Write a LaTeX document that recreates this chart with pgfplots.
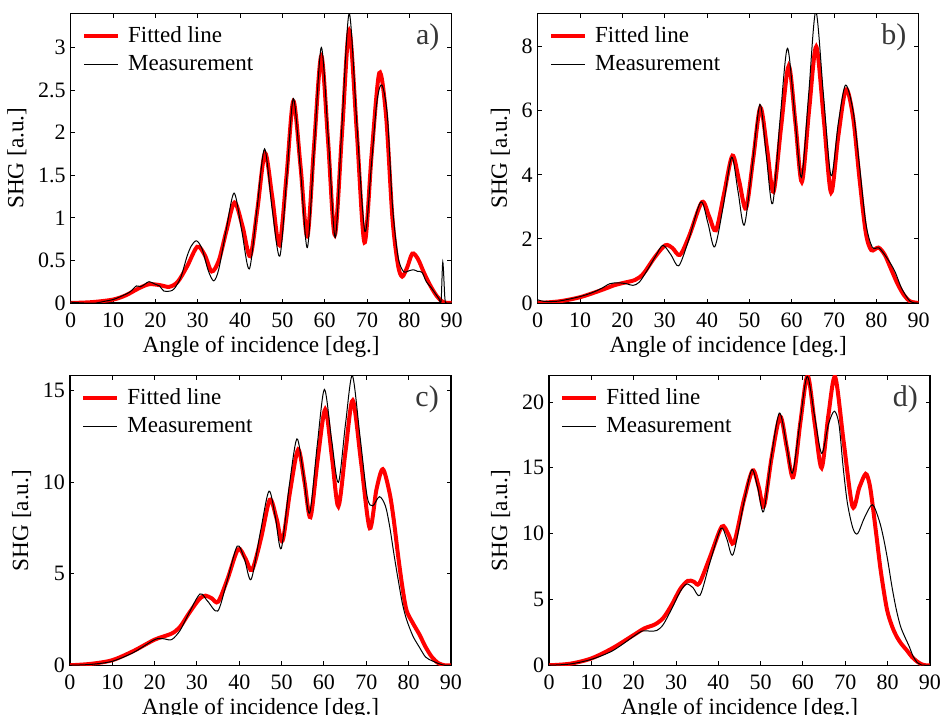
\documentclass[border=0pt]{standalone}
\usepackage{pgfplots}
\pgfplotsset{compat=1.18}
\usepackage{fontspec}
\setmainfont{Liberation Serif}
\definecolor{fitred}{RGB}{255,0,0}
\definecolor{tagcol}{RGB}{55,55,55}

\tikzset{tag/.style={anchor=east, inner sep=0pt, text=tagcol, font=\fontsize{15}{17}\selectfont}}

\pgfplotsset{
  shg/.style={
    scale only axis,
    width=190.5pt, height=144.8pt,
    xmin=0, xmax=90, ymin=0,
    xtick={0,10,...,90},
    tick align=inside,
    xtick pos=both, ytick pos=both,
    major tick length=2.2pt,
    axis line style={line width=0.6pt},
    every tick/.style={black, line width=0.5pt},
    xticklabel style={font=\fontsize{11}{13}\selectfont, inner sep=4.5pt},
    yticklabel style={font=\fontsize{11}{13}\selectfont, inner sep=2.3pt},
    xlabel style={font=\fontsize{11.6}{14}\selectfont, yshift=3.5pt},
    ylabel style={font=\fontsize{11.6}{14}\selectfont},
    /pgf/number format/assume math mode=true,
    ylabel={SHG [a.u.]},
    xlabel={Angle of incidence [deg.]},
    legend style={at={(0,1)}, anchor=north west, xshift=2.5pt, yshift=-2.3pt,
      draw=none, fill=none, font=\fontsize{11.5}{13.5}\selectfont, row sep=1pt},
    legend cell align=left,
    legend image code/.code={\draw[##1] (0pt,0pt) -- (17pt,0pt); \path (19pt,0pt);},
  },
  fit/.style={fitred, line width=2pt, smooth},
  meas/.style={black, line width=0.5pt, smooth},
}

\begin{document}
\begin{tikzpicture}
\useasboundingbox (0,0) rectangle (470.5pt,357.5pt);
\clip (0,0) rectangle (470.5pt,357.5pt);

% a)
\begin{axis}[shg, at={(35.35pt,206pt)}, anchor=south west,
  ymax=3.4, ytick={0,0.5,1,1.5,2,2.5,3}]
\addplot[fit] coordinates {
(0,0) (5,0.01) (10,0.04) (13,0.09) (16,0.17) (18.5,0.22) (21,0.21) (23.3,0.19) (25.3,0.25) (27.5,0.43) (29.9,0.66) (31.7,0.56) (33.3,0.37) (35,0.5) (36.8,0.85) (38.7,1.18) (40.6,0.9) (42.4,0.55) (44.1,1.1) (45.9,1.76) (47.6,1.25) (49.3,0.68) (51,1.5) (52.6,2.37) (54.3,1.6) (55.9,0.78) (57.5,1.85) (59.2,2.9) (60.8,1.9) (62.4,0.8) (64.1,2.0) (65.8,3.2) (67.6,2.0) (69.4,0.71) (71.1,1.75) (72.9,2.7) (74.5,2.2) (76,1.0) (77.3,0.45) (78.3,0.31) (79.5,0.42) (80.7,0.58) (82,0.52) (83.5,0.35) (85,0.2) (86.5,0.08) (88,0.01) (90,0)
};
\addlegendentry{Fitted line}
\addplot[meas] coordinates {
(0,0.01) (3,0.0) (6,0.0) (8,0.02) (10,0.04) (12,0.08) (14,0.13) (15.5,0.2) (16.5,0.19) (17.5,0.22) (18.5,0.25) (20,0.22) (21,0.2) (22,0.14) (23.5,0.14) (24.5,0.17) (26,0.3) (27.5,0.55) (28.5,0.67) (29.7,0.73) (31,0.64) (32.5,0.38) (33.8,0.26) (35,0.4) (36.7,0.85) (38.6,1.29) (40.4,0.85) (42.2,0.4) (44,1.1) (45.8,1.81) (47.6,1.1) (49.4,0.55) (51,1.45) (52.6,2.4) (54.3,1.55) (55.9,0.65) (57.5,1.8) (59.2,3.0) (60.9,1.9) (62.5,0.77) (64.1,2.1) (65.8,3.4) (67.6,2.1) (69.5,0.84) (71,1.6) (72.3,2.35) (73.5,2.56) (74.8,2.2) (76,1.15) (77.3,0.55) (78.6,0.37) (80,0.38) (81,0.39) (82,0.37) (83,0.36) (84,0.25) (85,0.19) (86,0.12) (87,0.05) (87.5,0.02) (87.9,0.48) (88.4,0.05) (88.8,0.0) (90,0.0)
};
\addlegendentry{Measurement}
\node[tag] at (rel axis cs:0.969,0.917) {a)};
\end{axis}

% b)
\begin{axis}[shg, at={(268.85pt,206pt)}, anchor=south west,
  ymax=9.04, ytick={0,2,4,6,8}]
\addplot[fit] coordinates {
(0,0.0) (5,0.05) (10,0.18) (15,0.4) (18,0.55) (20,0.62) (23,0.72) (25,0.92) (27.5,1.4) (30.1,1.8) (31.8,1.72) (33.6,1.5) (35.8,2.1) (38.8,3.15) (40.5,2.7) (42.1,2.27) (44,3.4) (46,4.6) (47.6,3.8) (49.2,2.95) (50.9,4.5) (52.6,6.1) (54.2,4.8) (55.7,3.47) (57.5,5.5) (59.3,7.4) (60.9,5.6) (62.4,3.78) (64.1,6.0) (65.8,8.0) (67.6,5.7) (69.3,3.45) (71,5.2) (72.8,6.67) (74.5,5.8) (76,3.9) (77.5,2.2) (78.8,1.65) (80.5,1.73) (82,1.5) (83.5,1.05) (85,0.6) (86.5,0.25) (88,0.05) (90,0.0)
};
\addlegendentry{Fitted line}
\addplot[meas] coordinates {
(0,0.1) (1.5,0.05) (5,0.06) (10,0.2) (13,0.33) (15,0.45) (17,0.6) (19,0.63) (21,0.6) (22.5,0.55) (24,0.65) (26,1.05) (28,1.5) (29.6,1.8) (31.5,1.5) (33.3,1.16) (35.5,1.9) (38.5,3.15) (40.2,2.5) (41.8,1.75) (43.8,3.0) (45.8,4.55) (47.3,3.5) (48.8,2.43) (50.6,4.2) (52.5,6.2) (54,4.6) (55.5,3.1) (57.3,5.8) (59,7.95) (60.7,5.9) (62.3,3.92) (64,6.5) (65.7,9.1) (67.5,6.5) (69.3,3.97) (71,5.6) (72.7,6.8) (74.5,6.0) (76,4.3) (77.5,2.5) (79,1.75) (80.6,1.72) (82,1.5) (83.5,1.2) (84.5,0.95) (86,0.45) (88,0.05) (90,0.0)
};
\addlegendentry{Measurement}
\node[tag] at (rel axis cs:0.969,0.917) {b)};
\end{axis}

% c)
\begin{axis}[shg, at={(35pt,24.85pt)}, anchor=south west,
  ymax=15.8, ytick={0,5,10,15}]
\addplot[fit] coordinates {
(0,0.0) (5,0.08) (10,0.28) (15,0.78) (20,1.4) (24,1.73) (26,2.1) (28,2.8) (30.5,3.6) (32,3.8) (33.5,3.65) (35,3.47) (37.2,4.7) (39.7,6.33) (41.5,5.8) (43,5.2) (45.1,6.9) (47.2,9.03) (48.8,8.0) (50.2,6.8) (52,9.5) (53.9,11.77) (55.4,10.0) (56.8,8.08) (58.5,11.2) (60.3,13.96) (61.9,11.3) (63.4,8.67) (65.1,11.7) (66.8,14.45) (68.8,11.0) (70.8,7.48) (72.4,9.6) (73.9,10.7) (75.5,9.4) (76.5,7.9) (77.5,6.0) (78.5,4.3) (79.5,3.0) (81,2.3) (82.5,1.7) (84,1.0) (85.5,0.45) (87,0.12) (88.5,0.0) (90,0)
};
\addlegendentry{Fitted line}
\addplot[meas] coordinates {
(0,0.0) (5,0.05) (10,0.22) (15,0.7) (20,1.4) (22,1.45) (24,1.4) (26,1.9) (28,2.8) (30.7,3.89) (32.5,3.5) (34.9,2.96) (37,4.5) (39.5,6.5) (41.2,5.8) (42.8,4.69) (45,7.3) (47,9.5) (48.5,8.1) (49.9,6.37) (51.8,9.8) (53.6,12.35) (55.1,10.5) (56.6,8.3) (58.4,12.0) (60.1,15.05) (61.8,12.3) (63.4,9.98) (65.1,13.2) (66.7,15.8) (68.5,12.5) (70.2,9.2) (71.5,8.7) (73.1,9.2) (74.5,8.7) (75.5,7.6) (76.5,6.1) (77.5,4.7) (78.5,3.4) (79.5,2.5) (81,1.6) (82.5,1.0) (84,0.45) (85.5,0.25) (87,0.1) (88.5,0.0) (90,0)
};
\addlegendentry{Measurement}
\node[tag] at (rel axis cs:0.969,0.917) {c)};
\end{axis}

% d)
\begin{axis}[shg, at={(274.5pt,24.85pt)}, anchor=south west,
  ymax=22, ytick={0,5,10,15,20}]
\addplot[fit] coordinates {
(0,0.0) (5,0.12) (10,0.52) (15,1.3) (20,2.3) (22.5,2.8) (25,3.1) (27,3.6) (29,4.6) (31,5.8) (32.8,6.42) (34.2,6.35) (35.5,6.22) (38,8.2) (40.8,10.53) (42.3,10.0) (43.7,9.3) (46,12.5) (48.1,14.8) (49.5,13.6) (50.8,12.1) (52.6,15.8) (54.6,18.9) (56.2,16.5) (57.7,14.29) (59.4,18.5) (61.1,22.0) (62.8,18.3) (64.4,15.0) (66,19.0) (67.6,21.9) (69.6,17.0) (71.7,12.06) (73.3,13.5) (74.8,14.54) (75.7,13.8) (76.4,12.3) (77.4,9.7) (78.4,7.1) (79.8,4.3) (81,3.0) (82.1,2.2) (83.3,1.6) (84.5,1.15) (85.7,0.65) (86.9,0.3) (88,0.08) (89,0) (90,0)
};
\addlegendentry{Fitted line}
\addplot[meas] coordinates {
(0,0.0) (5,0.1) (10,0.45) (15,1.1) (20,2.2) (22,2.6) (24,2.6) (25.5,2.65) (27,3.1) (29,4.3) (31,5.6) (32.5,6.17) (34,5.9) (35.7,5.33) (38,7.8) (40.6,10.4) (42,9.6) (43.5,8.43) (46,12.3) (47.9,14.85) (49.3,13.5) (50.7,11.68) (52.5,15.8) (54.4,19.16) (56,17.0) (57.5,14.6) (59.3,18.5) (61,21.95) (62.7,19.0) (64.4,16.1) (66,18.3) (67.4,19.3) (68.5,18.3) (69.5,15.0) (70.5,12.3) (71.8,10.4) (72.9,10.0) (74.5,11.2) (76.4,12.2) (78,11.0) (79,9.7) (80,8.0) (81,6.0) (82,4.3) (83,3.0) (84,2.2) (85,1.5) (86,0.7) (87,0.2) (88,0.02) (90,0)
};
\addlegendentry{Measurement}
\node[tag] at (rel axis cs:0.969,0.917) {d)};
\end{axis}
\end{tikzpicture}
\end{document}
